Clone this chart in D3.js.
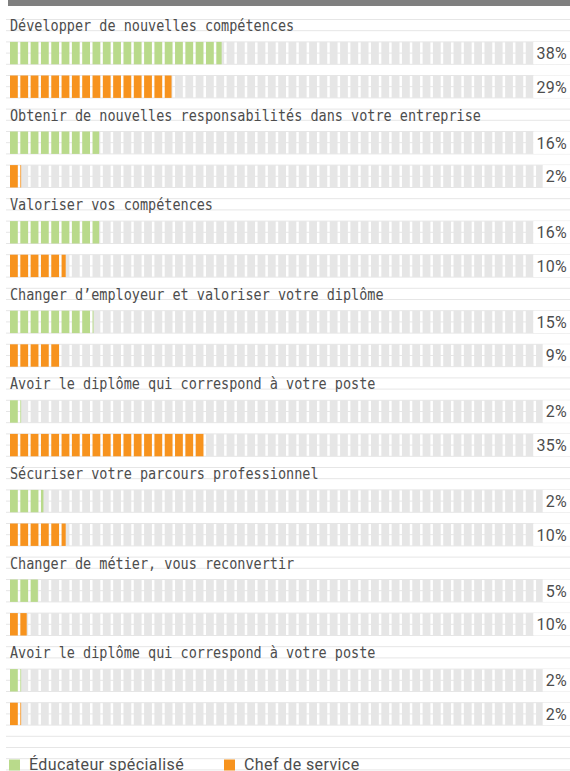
<!DOCTYPE html>
<html>
<head>
<meta charset="utf-8">
<script src="https://cdn.jsdelivr.net/npm/d3@7"></script>
<style>
body { margin: 0; background: #fff; }
text { font-family: Roboto, sans-serif; fill: #4d4d4d; }
</style>
</head>
<body>
<div id="chart"></div>
<script>
var categories = [
    "Développer de nouvelles compétences",
    "Obtenir de nouvelles responsabilités dans votre entreprise",
    "Valoriser vos compétences",
    "Changer d’employeur et valoriser votre diplôme",
    "Avoir le diplôme qui correspond à votre poste",
    "Sécuriser votre parcours professionnel",
    "Changer de métier, vous reconvertir",
    "Avoir le diplôme qui correspond à votre poste"
];
// bar lengths as drawn, and the labels printed next to them
var educValues = [38, 16, 16, 15, 2, 6, 5, 2];
var chefValues = [29, 2, 10, 9, 35, 10, 3, 2];
var educLabels = ["38%", "16%", "16%", "15%", "2%", "2%", "5%", "2%"];
var chefLabels = ["29%", "2%", "10%", "9%", "35%", "10%", "10%", "2%"];
var seriesNames = ["Éducateur spécialisé", "Chef de service"];
var seriesColors = ["#b9da8b", "#f7931e"];

function init ()
{
    var w = 570;
    var h = 771;
    var rowH = 11.2;
    var top = 19.5;

    var xScale = d3.scaleLinear()
        .domain([0, 100])
        .range([10, 567]);

    var yScale = d3.scaleBand()
        .domain(d3.range(categories.length))
        .range([top, top + categories.length * 8 * rowH]);

    var svg = d3.select("#chart")
        .append("svg")
        .attr("width", w)
        .attr("height", h);

    // ruled lines
    var lines = d3.range(top, h, rowH);
    svg.selectAll("line.rule")
        .data(lines)
        .enter()
        .append("line")
        .attr("class", "rule")
        .attr("x1", 6)
        .attr("x2", w)
        .attr("y1", function(d){ return d; })
        .attr("y2", function(d){ return d; })
        .style("stroke", "#e6e6e6")
        .style("stroke-width", 1);

    svg.append("rect")
        .attr("x", 8)
        .attr("y", 0)
        .attr("width", w - 8)
        .attr("height", 6)
        .style("fill", "#7f7f7f");

    // segments of the bars
    var nSeg = 54;
    var segW = (xScale(100) - xScale(0)) / nSeg;
    svg.append("clipPath")
        .attr("id", "segs")
        .selectAll("rect")
        .data(d3.range(nSeg + 1))
        .enter()
        .append("rect")
        .attr("x", function(d){ return xScale(0) + d * segW; })
        .attr("y", 0)
        .attr("width", segW - 2.5)
        .attr("height", h);

    var series = [
        {values: educValues, labels: educLabels},
        {values: chefValues, labels: chefLabels}
    ];

    var groups = svg.selectAll("g.cat")
        .data(categories)
        .enter()
        .append("g")
        .attr("class", "cat");

    groups.append("text")
        .attr("x", 10)
        .attr("y", function(d, i){ return yScale(i) + rowH + 0.3; })
        .style("font-family", "'DejaVu Sans Mono', monospace")
        .style("font-size", "16px")
        .attr("textLength", function(d){ return d.length * 8.12; })
        .attr("lengthAdjust", "spacingAndGlyphs")
        .text(function(d){ return d; });

    series.forEach(function(s, si){
        var barY = function(i){ return yScale(i) + (2 + 3 * si) * rowH; };

        var bars = groups.append("g")
            .attr("clip-path", "url(#segs)");

        bars.append("rect")
            .attr("x", xScale(0))
            .attr("y", function(d, i){ return barY(i); })
            .attr("width", w - xScale(0))
            .attr("height", 2 * rowH)
            .style("fill", "#e6e6e6");

        bars.append("rect")
            .attr("x", xScale(0))
            .attr("y", function(d, i){ return barY(i); })
            .attr("width", function(d, i){ return xScale(s.values[i]) - xScale(0); })
            .attr("height", 2 * rowH)
            .style("fill", seriesColors[si]);

        var bg = groups.append("rect")
            .style("fill", "#fff");

        var lbl = groups.append("text")
            .attr("x", 567)
            .attr("y", function(d, i){ return barY(i) + rowH + 5.8; })
            .attr("text-anchor", "end")
            .style("font-size", "16px")
            .style("letter-spacing", "0.3px")
            .text(function(d, i){ return s.labels[i]; });

        bg.each(function(d, i){
            var b = lbl.nodes()[i].getBBox();
            d3.select(this)
                .attr("x", b.x - 3)
                .attr("y", barY(i))
                .attr("width", w - b.x + 3)
                .attr("height", 2 * rowH);
        });
    });

    // legend
    var legend = svg.selectAll("g.legend")
        .data(seriesNames)
        .enter()
        .append("g")
        .attr("class", "legend")
        .attr("transform", function(d, i){ return "translate(" + (i == 0 ? 9 : 224) + ",0)"; });

    legend.append("rect")
        .attr("x", 0)
        .attr("y", 759.5)
        .attr("width", 11)
        .attr("height", 11)
        .style("fill", function(d, i){ return seriesColors[i]; });

    legend.append("text")
        .attr("x", 20)
        .attr("y", 769.5)
        .style("font-size", "16px")
        .style("letter-spacing", "0.4px")
        .text(function(d){ return d; });
};

window.onload = init;
</script>
</body>
</html>
